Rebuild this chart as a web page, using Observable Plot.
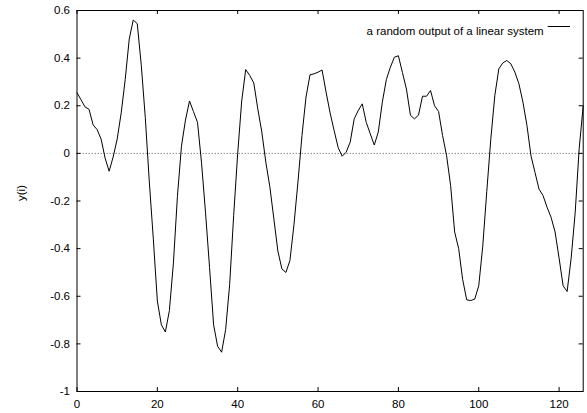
<!DOCTYPE html>
<html><head><meta charset="utf-8">
<script src="https://cdn.jsdelivr.net/npm/d3@7"></script>
<script src="https://cdn.jsdelivr.net/npm/@observablehq/plot@0.6"></script>
<style>body{margin:0;background:#fff}</style>
</head><body><div id="chart"></div>
<script>
const yValues = [
  0.255, 0.225, 0.195, 0.185, 0.12, 0.10, 0.06, -0.02, -0.075, -0.015,
  0.06, 0.17, 0.31, 0.48, 0.56, 0.545, 0.37, 0.15, -0.12, -0.36,
  -0.62, -0.72, -0.75, -0.66, -0.46, -0.18, 0.03, 0.14, 0.22, 0.175,
  0.13, -0.04, -0.25, -0.48, -0.72, -0.81, -0.835, -0.74, -0.55, -0.26,
  0.0, 0.22, 0.352, 0.327, 0.296, 0.187, 0.09, -0.037, -0.14, -0.275,
  -0.41, -0.485, -0.50, -0.45, -0.30, -0.12, 0.075, 0.236, 0.33, 0.334,
  0.341, 0.35, 0.257, 0.17, 0.096, 0.025, -0.012, 0.005, 0.047, 0.145,
  0.18, 0.208, 0.13, 0.082, 0.035, 0.09, 0.215, 0.31, 0.362, 0.404,
  0.41, 0.34, 0.27, 0.16, 0.145, 0.16, 0.24, 0.24, 0.264, 0.2,
  0.176, 0.075, -0.01, -0.135, -0.33, -0.4, -0.53, -0.615, -0.618, -0.612,
  -0.556, -0.39, -0.16, 0.06, 0.243, 0.355, 0.38, 0.39, 0.376, 0.341,
  0.292, 0.215, 0.117, -0.01, -0.08, -0.15, -0.177, -0.226, -0.268, -0.33,
  -0.44, -0.556, -0.58, -0.44, -0.25, 0.02, 0.2
];
const xTicks = [0, 20, 40, 60, 80, 100, 120];
const yTicks = [-1, -0.8, -0.6, -0.4, -0.2, 0, 0.2, 0.4, 0.6];
const seriesLabel = "a random output of a linear system";
const yLabel = "y(i)";

const data = yValues.map((y, i) => ({i, y}));
const W = 587, H = 413, mL = 76.5, mR = 4.3, mT = 10, mB = 22;
const plotW = W - mL - mR, plotH = H - mT - mB, tick = 4;

const chart = Plot.plot({
  width: W, height: H,
  marginLeft: mL, marginRight: mR, marginTop: mT, marginBottom: mB,
  style: {fontFamily: "'Liberation Sans', Arial, sans-serif", fontSize: "11.5px", background: "#fff", color: "#000"},
  x: {domain: [0, 126]},
  y: {domain: [-1, 0.6]},
  marks: [
    Plot.ruleY([0], {stroke: "#888", strokeDasharray: "1.5,1.5", strokeWidth: 1}),
    Plot.axisX(xTicks, {tickSize: 0, tickPadding: 8, label: null, tickFormat: d => String(d)}),
    Plot.axisY(yTicks, {tickSize: 0, tickPadding: 7, label: null, tickFormat: d => String(d)}),
    Plot.tickX(xTicks, {x: d => d, insetTop: plotH - tick, stroke: "#000"}),
    Plot.tickX(xTicks, {x: d => d, insetBottom: plotH - tick, stroke: "#000"}),
    Plot.tickY(yTicks, {y: d => d, insetRight: plotW - tick, stroke: "#000"}),
    Plot.tickY(yTicks, {y: d => d, insetLeft: plotW - tick, stroke: "#000"}),
    Plot.line(data, {x: "i", y: "y", stroke: "#000", strokeWidth: 1}),
    Plot.frame({stroke: "#000"}),
    Plot.text([seriesLabel], {frameAnchor: "top-right", dx: -39.5, dy: 16.5, textAnchor: "end", text: d => d, fill: "#000"}),
    Plot.text([yLabel], {frameAnchor: "left", dx: -56, rotate: -90, text: d => d, fill: "#000"})
  ]
});

// legend sample line
const right = W - mR;
d3.select(chart).append("line")
  .attr("x1", right - 35).attr("x2", right - 12.7)
  .attr("y1", mT + 16.5).attr("y2", mT + 16.5)
  .attr("stroke", "#000").attr("stroke-width", 1);

document.getElementById("chart").appendChild(chart);
</script>
</body></html>
